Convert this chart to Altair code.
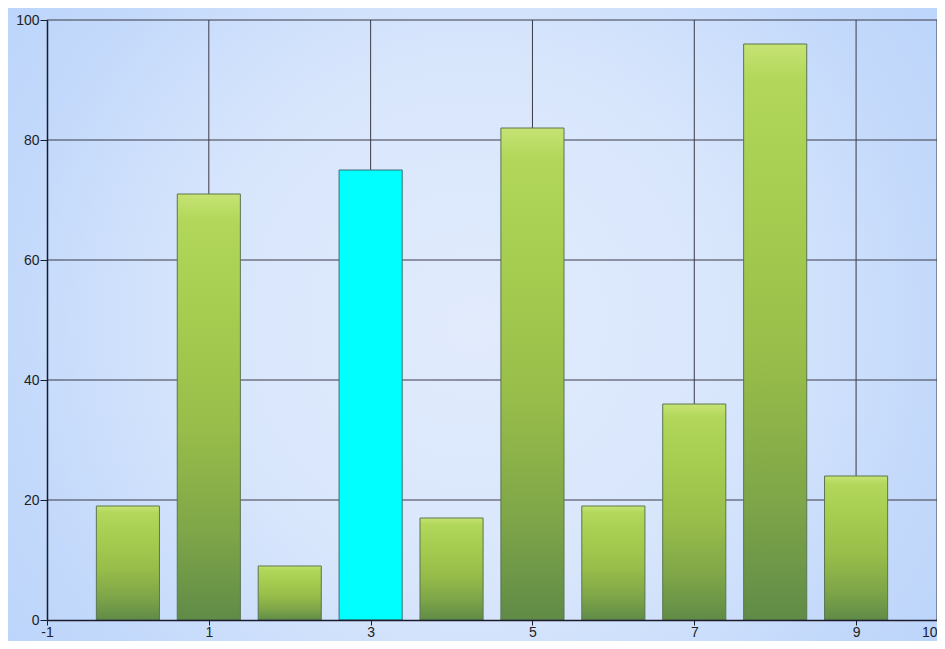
import altair as alt
import pandas as pd

# ---- data ----
categories = [0, 1, 2, 3, 4, 5, 6, 7, 8, 9]
values = [19, 71, 9, 75, 17, 82, 19, 36, 96, 24]
highlighted = [False, False, False, True, False, False, False, False, False, False]
x_ticks = [-1, 1, 3, 5, 7, 9, 10]
y_ticks = [0, 20, 40, 60, 80, 100]
x_grid = [1, 3, 5, 7, 9, 10]
y_grid = [20, 40, 60, 80, 100]
bar_half_width = 0.39

W, H = 890, 600
PAD = {"left": 39, "top": 12, "right": 0, "bottom": 21}

df = pd.DataFrame({"x": categories, "value": values, "hl": highlighted})

xs = alt.Scale(domain=[-1, 10], nice=False, zero=False, padding=0)
ys = alt.Scale(domain=[0, 100], nice=False, zero=True, padding=0)

axis_color = "#1b1b2b"
label_font = "Liberation Sans"

xaxis = alt.Axis(values=x_ticks, grid=False, domainColor=axis_color, domainWidth=1.5,
                 tickColor=axis_color, tickSize=5, labelPadding=0, labelFont=label_font,
                 labelFontSize=14, labelColor="#222222", labelFlush=False,
                 labelAlign={"condition": {"test": "datum.value == 10", "value": "right"},
                             "value": "center"},
                 labelExpr="'' + datum.value", zindex=1)
yaxis = alt.Axis(values=y_ticks, grid=False, domainColor=axis_color, domainWidth=1.5,
                 tickColor=axis_color, tickSize=7, labelPadding=1, labelFont=label_font,
                 labelFontSize=14, labelColor="#222222", labelFlush=False,
                 labelExpr="'' + datum.value", zindex=1)

bg_grad = {
    "gradient": "radial",
    "x1": 0.5, "y1": 0.5, "r1": 0,
    "x2": 0.5, "y2": 0.5, "r2": 0.72,
    "stops": [
        {"offset": 0.0, "color": "#e1ebfc"},
        {"offset": 0.4, "color": "#d8e6fc"},
        {"offset": 0.7, "color": "#c3d9fb"},
        {"offset": 1.0, "color": "#b5d1fa"},
    ],
}

bar_grad = {
    "gradient": "linear",
    "x1": 0, "y1": 0, "x2": 0, "y2": 1,
    "stops": [
        {"offset": 0.0, "color": "#c6e374"},
        {"offset": 0.06, "color": "#b2d75a"},
        {"offset": 0.3, "color": "#a5cc4f"},
        {"offset": 0.55, "color": "#98bd4a"},
        {"offset": 0.8, "color": "#7ea548"},
        {"offset": 1.0, "color": "#608b47"},
    ],
}

background = alt.Chart(pd.DataFrame({"a": [0]})).mark_rect(fill=bg_grad).encode(
    x=alt.value(-PAD["left"]), x2=alt.value(W + PAD["right"]),
    y=alt.value(-PAD["top"]), y2=alt.value(H + PAD["bottom"]),
)

vgrid = alt.Chart(pd.DataFrame({"gx": x_grid})).mark_rule(color="#3a3a48", strokeWidth=1).encode(
    x=alt.X("gx:Q", scale=xs, axis=xaxis, title=None)
)
hgrid = alt.Chart(pd.DataFrame({"gy": y_grid})).mark_rule(color="#3a3a48", strokeWidth=1).encode(
    y=alt.Y("gy:Q", scale=ys, axis=yaxis, title=None)
)

base = alt.Chart(df).transform_calculate(
    x0=f"datum.x - {bar_half_width}", x1=f"datum.x + {bar_half_width}", y0="0"
)

green_bars = base.transform_filter("!datum.hl").mark_rect(
    fill=bar_grad, stroke="#5b7650", strokeWidth=1
).encode(
    x=alt.X("x0:Q", scale=xs, axis=xaxis, title=None),
    x2="x1:Q",
    y=alt.Y("value:Q", scale=ys, axis=yaxis, title=None),
    y2="y0:Q",
)

cyan_bars = base.transform_filter("datum.hl").mark_rect(
    fill="#00ffff", stroke="#3f6f70", strokeWidth=1
).encode(
    x=alt.X("x0:Q", scale=xs, axis=xaxis, title=None),
    x2="x1:Q",
    y=alt.Y("value:Q", scale=ys, axis=yaxis, title=None),
    y2="y0:Q",
)

chart = alt.layer(background, vgrid, hgrid, green_bars, cyan_bars).properties(
    width=W, height=H,
    autosize=alt.AutoSizeParams(type="none"),
    padding=PAD,
    background="#b9d4fa",
).configure_view(stroke="transparent")

chart.save("out.html", embed_options={"renderer": "svg", "actions": False})
